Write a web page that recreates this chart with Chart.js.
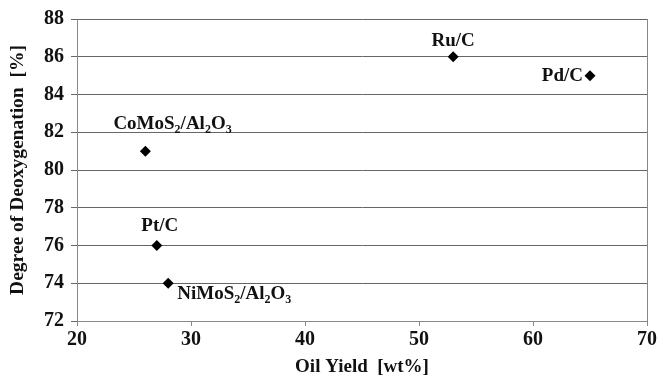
<!DOCTYPE html>
<html>
<head>
<meta charset="utf-8">
<script src="https://cdn.jsdelivr.net/npm/chart.js@4/dist/chart.umd.min.js"></script>
<style>
html,body{margin:0;padding:0;background:#fff;}
#wrap{width:659px;height:378px;}
</style>
</head>
<body>
<div id="wrap"><canvas id="c" width="659" height="378"></canvas></div>
<script>
// Data
const catalysts = ["Ru/C", "Pd/C", "CoMoS_2/Al_2O_3", "Pt/C", "NiMoS_2/Al_2O_3"];
const oilYield = [53, 65, 26, 27, 28];
const deoxygenation = [86, 85, 81, 76, 74];
const xTicks = [20, 30, 40, 50, 60, 70];
const yTicks = [72, 74, 76, 78, 80, 82, 84, 86, 88];

// label placement (pixel offsets from point; align)
const labelPlacement = [
  {dx: 0, dy: -11, align: "center"},
  {dx: -7, dy: 5, align: "right"},
  {dx: -32, dy: -22, align: "left"},
  {dx: 3, dy: -15, align: "center"},
  {dx: 9, dy: 16, align: "left"}
];

const FONT = "'Liberation Serif', 'Times New Roman', serif";

function parseLabel(s) {
  const segs = [];
  const re = /_(\d)|([^_]+?)(?=_|$)/g;
  let m;
  while ((m = re.exec(s)) !== null) {
    if (m[1] !== undefined) segs.push({t: m[1], sub: true});
    else segs.push({t: m[2], sub: false});
  }
  return segs;
}

const labelPlugin = {
  id: "labels",
  afterDatasetsDraw(chart) {
    const ctx = chart.ctx;
    const xs = chart.scales.x, ys = chart.scales.y;
    const main = "bold 19px " + FONT;
    const sub = "bold 12px " + FONT;
    ctx.save();
    ctx.fillStyle = "#111";
    ctx.textBaseline = "alphabetic";
    catalysts.forEach((name, i) => {
      const px = xs.getPixelForValue(oilYield[i]);
      const py = ys.getPixelForValue(deoxygenation[i]);
      const pl = labelPlacement[i];
      const segs = parseLabel(name);
      let w = 0;
      segs.forEach(sg => { ctx.font = sg.sub ? sub : main; sg.w = ctx.measureText(sg.t).width; w += sg.w; });
      let x = px + pl.dx;
      if (pl.align === "center") x -= w / 2;
      else if (pl.align === "right") x -= w;
      const y = py + pl.dy;
      ctx.textAlign = "left";
      segs.forEach(sg => {
        ctx.font = sg.sub ? sub : main;
        ctx.fillText(sg.t, x, sg.sub ? y + 4 : y);
        x += sg.w;
      });
    });
    ctx.restore();
  }
};

const borderPlugin = {
  id: "rightBorder",
  beforeDatasetsDraw(chart) {
    const a = chart.chartArea, ctx = chart.ctx;
    ctx.save();
    ctx.strokeStyle = "#888";
    ctx.lineWidth = 1;
    ctx.beginPath();
    ctx.moveTo(Math.round(a.right) + 0.5, a.top);
    ctx.lineTo(Math.round(a.right) + 0.5, a.bottom);
    ctx.stroke();
    ctx.restore();
  }
};

new Chart(document.getElementById("c"), {
  type: "scatter",
  data: {
    datasets: [{
      data: oilYield.map((x, i) => ({x: x, y: deoxygenation[i]})),
      pointStyle: "rectRot",
      pointRadius: 5.5,
      pointHoverRadius: 5.5,
      backgroundColor: "#000",
      borderColor: "#000",
      borderWidth: 0
    }]
  },
  options: {
    responsive: false,
    animation: false,
    events: [],
    layout: {padding: {left: 0, right: 12, top: 15, bottom: 0}},
    plugins: {legend: {display: false}, tooltip: {enabled: false}},
    scales: {
      x: {
        type: "linear",
        min: 20, max: 70,
        afterBuildTicks: s => { s.ticks = xTicks.map(v => ({value: v})); },
        afterFit: s => { s.height = 57; },
        grid: {display: true, drawOnChartArea: false, drawTicks: true, tickLength: 5, color: "#888"},
        border: {display: true, color: "#888", width: 1},
        ticks: {color: "#111", font: {family: FONT, size: 20, weight: "bold"}, padding: 2, maxRotation: 0},
        title: {display: true, text: "Oil Yield  [wt%]", color: "#111", font: {family: FONT, size: 19, weight: "bold"}, padding: {top: 4, bottom: 0}}
      },
      y: {
        min: 72, max: 88,
        afterBuildTicks: s => { s.ticks = yTicks.map(v => ({value: v})); },
        afterFit: s => { s.width = 77; },
        grid: {display: true, drawOnChartArea: true, drawTicks: true, tickLength: 6, color: "#666", lineWidth: 1},
        border: {display: true, color: "#888", width: 1},
        ticks: {color: "#111", font: {family: FONT, size: 20, weight: "bold"}, padding: 7},
        title: {display: true, text: "Degree of Deoxygenation  [%]", color: "#111", font: {family: FONT, size: 19.5, weight: "bold"}, padding: {top: 6, bottom: 0}}
      }
    }
  },
  plugins: [borderPlugin, labelPlugin]
});
</script>
</body>
</html>
